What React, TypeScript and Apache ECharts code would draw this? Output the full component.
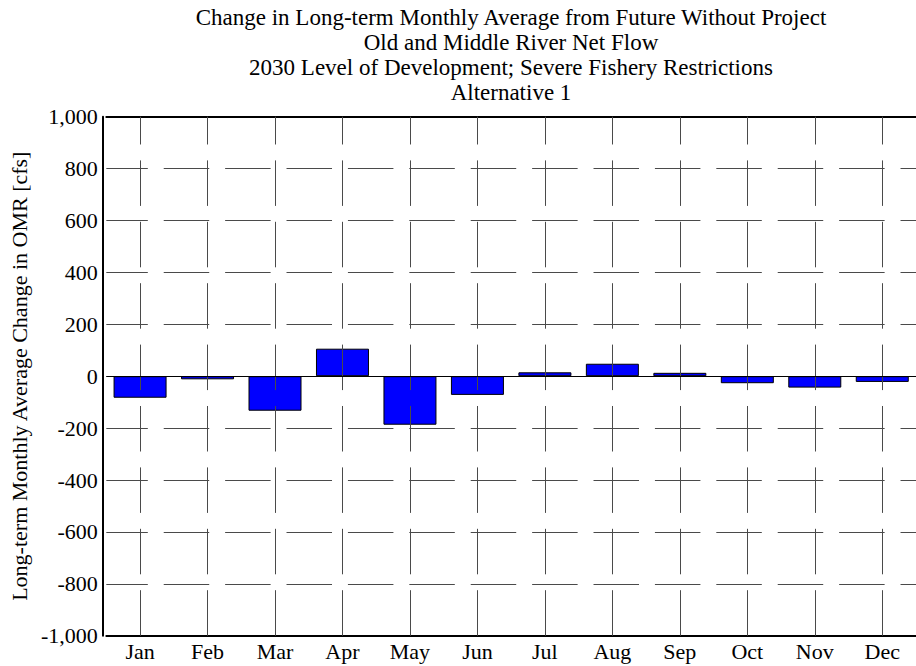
import React, { useEffect, useRef } from "react";
import * as echarts from "echarts";

const months = ["Jan", "Feb", "Mar", "Apr", "May", "Jun", "Jul", "Aug", "Sep", "Oct", "Nov", "Dec"];
const changeValues = [-83, -12, -133, 106, -187, -72, 15, 48, 13, -27, -44, -22];
const titleLines = [
  "Change in Long-term Monthly Average from Future Without Project",
  "Old and Middle River Net Flow",
  "2030 Level of Development; Severe Fishery Restrictions",
  "Alternative 1",
];
const yAxisName = "Long-term Monthly Average Change in OMR [cfs]";
const yMin = -1000;
const yMax = 1000;
const yStep = 200;

const FONT = "'Liberation Serif', 'Times New Roman', serif";
const GRID_COLOR = "#4a4a4a";
const DASH = [45.5, 15.9];

export default function App() {
  const ref = useRef<HTMLDivElement>(null);
  useEffect(() => {
    if (!ref.current) return;
    const chart = echarts.init(ref.current, undefined, { renderer: "svg" });
    chart.setOption({
      animation: false,
      backgroundColor: "#ffffff",
      title: {
        text: titleLines.join("\n"),
        left: 506,
        top: 0,
        textAlign: "center",
        textStyle: {
          fontFamily: FONT,
          fontSize: 23,
          fontWeight: "normal",
          color: "#000",
          lineHeight: 25,
        },
      },
      grid: { left: 105.3, top: 116.7, width: 816, height: 519, containLabel: false },
      xAxis: [
        {
          type: "category",
          data: months,
          position: "bottom",
          axisLine: { show: true, onZero: false, lineStyle: { color: "#000", width: 2 } },
          axisTick: { show: false },
          axisLabel: { fontFamily: FONT, fontSize: 22, color: "#000", margin: 5 },
          splitLine: { show: false },
        },
        {
          type: "category",
          data: months,
          position: "top",
          axisLine: { show: true, onZero: false, lineStyle: { color: "#000", width: 2 } },
          axisTick: { show: false },
          axisLabel: { show: false },
          splitLine: { show: false },
        },
      ],
      yAxis: {
        type: "value",
        min: yMin,
        max: yMax,
        interval: yStep,
        offset: 3.6,
        name: yAxisName,
        nameLocation: "middle",
        nameGap: 69,
        nameTextStyle: { fontFamily: FONT, fontSize: 22, color: "#000" },
        axisLine: { show: true, onZero: false, lineStyle: { color: "#000", width: 2 } },
        axisTick: { show: false },
        axisLabel: {
          fontFamily: FONT,
          fontSize: 22,
          color: "#000",
          margin: 5,
          formatter: (v: number) => v.toLocaleString("en-US"),
        },
        splitLine: {
          show: true,
          lineStyle: { color: GRID_COLOR, width: 1, type: DASH, dashOffset: 3.6 },
        },
      },
      series: [
        {
          type: "line",
          name: "grid",
          xAxisIndex: 0,
          yAxisIndex: 0,
          data: [],
          z: 1,
          silent: true,
          showSymbol: false,
          markLine: {
            silent: true,
            symbol: "none",
            label: { show: false },
            lineStyle: { color: GRID_COLOR, width: 1, type: DASH, dashOffset: 0 },
            data: months.map((m) => ({ xAxis: m })),
          },
        },
        {
          type: "bar",
          xAxisIndex: 0,
          yAxisIndex: 0,
          data: changeValues,
          barWidth: 53,
          z: 2,
          itemStyle: { color: "#0000ff", borderColor: "#000", borderWidth: 1 },
          markLine: {
            silent: true,
            symbol: "none",
            label: { show: false },
            lineStyle: { color: "#000", width: 1, type: "solid" },
            data: [{ yAxis: 0 }],
          },
        },
      ],
    });
    return () => chart.dispose();
  }, []);
  return (
    <div
      ref={ref}
      style={{ position: "fixed", left: 0, top: 0, width: 916, height: 666, background: "#fff" }}
    />
  );
}
